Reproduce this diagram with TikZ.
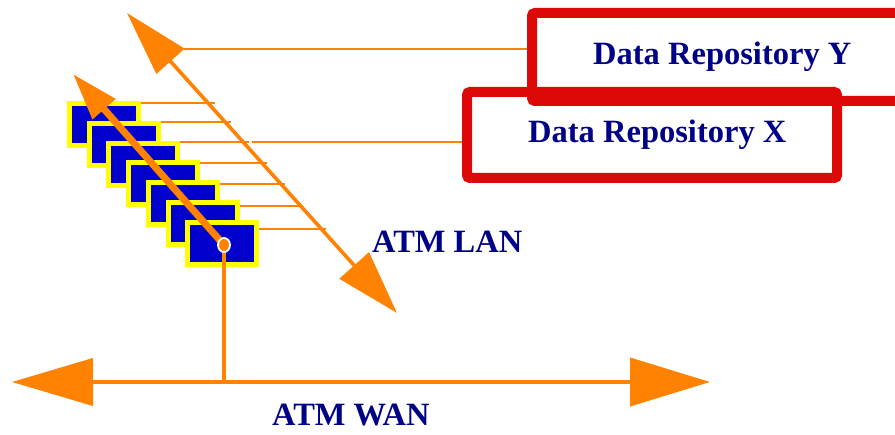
\documentclass[tikz,border=0pt]{standalone}
\usepackage{fontspec}
\setmainfont{Liberation Serif}
\usetikzlibrary{arrows.meta,shapes.geometric}
\definecolor{netor}{RGB}{255,130,0}
\definecolor{repred}{RGB}{221,8,8}
\definecolor{termblue}{RGB}{0,0,204}
\definecolor{termyel}{RGB}{255,255,0}
\definecolor{navytext}{RGB}{0,0,135}
\tikzset{
  lbl/.style={font=\fontsize{32.5}{38}\selectfont\bfseries, text=navytext, inner sep=0pt},
  repbox/.style={draw=repred, line width=10pt, rounded corners=3pt, inner sep=0pt},
  term/.style={draw=termyel, fill=termblue, line width=5pt, minimum width=69pt, minimum height=42pt, inner sep=0pt},
  thinlink/.style={draw=netor, line width=2.4pt},
  lanline/.style={draw=netor, line width=3.6pt},
  wanline/.style={draw=netor, line width=4pt},
  droplink/.style={draw=netor, line width=4pt},
  tap/.style={ellipse, fill=netor, draw=white, line width=1.8pt, minimum width=12pt, minimum height=14pt, inner sep=0pt},
}
\begin{document}
\begin{tikzpicture}[x=1pt,y=-1pt]
\useasboundingbox (0,0) rectangle (895,435);
\clip (0,0) rectangle (895,435);

% repository boxes
\node[repbox, minimum width=398pt, minimum height=88pt] (Y) at (731,57) {};
\node[repbox, minimum width=370pt, minimum height=86pt] (X) at (652,135) {};
\node[lbl, anchor=base west] (ty) at (593,65) {Data Repository Y};
\node[lbl, anchor=base west] (tx) at (528,143) {Data Repository X};

% ATM LAN
\coordinate (lanA) at (127,13);
\coordinate (lanB) at (397,313);
\draw[lanline, {Triangle[length=65pt,width=37pt]}-{Triangle[length=64pt,width=39pt]}] (lanA) -- (lanB);
\coordinate (yS) at (184,49);
\draw[thinlink] (yS) -- (Y.west |- 0,49);
\coordinate (xS) at (252,142);
\draw[thinlink] (xS) -- (X.west |- 0,142);
\node[lbl, anchor=base west] (tlan) at (372,253) {ATM LAN};

% terminals
\foreach \i/\ly/\lx in {0/103/215, 1/122/231, 2/142/249, 3/163/267, 4/184/285, 5/206/303, 6/229/326} {
  \coordinate (e\i) at (\lx,\ly);
}
\foreach \i in {0,...,6} {
  \node[term] (b\i) at ({104+19.7*\i},{124.5+19.8*\i}) {};
}
\foreach \i/\ly in {0/103, 1/122, 2/142, 3/163, 4/184, 5/206, 6/229} {
  \draw[thinlink] (b\i.east |- 0,\ly) -- (e\i);
}

% tap circle and thick arrow
\coordinate (tapc) at (224,245);
\coordinate (upTip) at (73,74);
\draw[draw=netor, line width=7pt, -{Triangle[length=47pt,width=29pt]}] (tapc) -- (upTip);

% ATM WAN
\coordinate (wanL) at (12,382);
\coordinate (wanR) at (710,382);
\coordinate (wanJ) at (224,382);
\draw[wanline, {Triangle[length=81pt,width=47pt]}-{Triangle[length=80pt,width=48pt]}] (wanL) -- (wanR);
\draw[droplink] (tapc) -- (wanJ);
\node[tap] (tap) at (tapc) {};
\node[lbl, anchor=base west] (twan) at (272,426) {ATM WAN};
\end{tikzpicture}
\end{document}
